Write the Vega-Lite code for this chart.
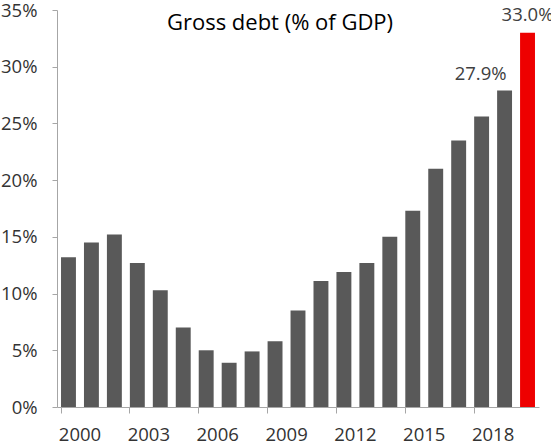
{
  "$schema": "https://vega.github.io/schema/vega-lite/v6.json",
  "width": 482,
  "height": 397,
  "autosize": {"type": "none"},
  "padding": {"left": 57, "top": 10, "right": 12, "bottom": 39},
  "background": "white",
  "title": {
    "text": "Gross debt (% of GDP)",
    "font": "Open Sans",
    "fontSize": 22,
    "fontWeight": "normal",
    "color": "#000000",
    "anchor": "middle",
    "offset": -34,
    "dx": -18
  },
  "config": {
    "view": {"stroke": null},
    "font": "Open Sans"
  },
  "data": {
    "values": [
      {"year": 2000, "value": 0.132},
      {"year": 2001, "value": 0.145},
      {"year": 2002, "value": 0.152},
      {"year": 2003, "value": 0.127},
      {"year": 2004, "value": 0.103},
      {"year": 2005, "value": 0.070},
      {"year": 2006, "value": 0.050},
      {"year": 2007, "value": 0.039},
      {"year": 2008, "value": 0.049},
      {"year": 2009, "value": 0.058},
      {"year": 2010, "value": 0.085},
      {"year": 2011, "value": 0.111},
      {"year": 2012, "value": 0.119},
      {"year": 2013, "value": 0.127},
      {"year": 2014, "value": 0.150},
      {"year": 2015, "value": 0.173},
      {"year": 2016, "value": 0.210},
      {"year": 2017, "value": 0.235},
      {"year": 2018, "value": 0.256},
      {"year": 2019, "value": 0.279},
      {"year": 2020, "value": 0.330}
    ]
  },
  "encoding": {
    "x": {
      "field": "year",
      "type": "ordinal",
      "scale": {"paddingInner": 0.35, "paddingOuter": 0.175},
      "axis": {
        "title": null,
        "values": [2000, 2003, 2006, 2009, 2012, 2015, 2018],
        "bandPosition": 0,
        "labelOffset": 11.5,
        "labelAngle": 0,
        "labelFont": "Open Sans",
        "labelFontSize": 18.5,
        "labelColor": "#333333",
        "labelPadding": 12,
        "tickSize": 6,
        "tickColor": "#A6A6A6",
        "domainColor": "#A6A6A6",
        "grid": false
      }
    },
    "y": {
      "field": "value",
      "type": "quantitative",
      "scale": {"domain": [0, 0.35], "nice": false},
      "axis": {
        "title": null,
        "values": [0, 0.05, 0.1, 0.15, 0.2, 0.25, 0.3, 0.35],
        "format": ".0%",
        "labelFont": "Open Sans",
        "labelFontSize": 18.5,
        "labelColor": "#333333",
        "labelPadding": 15,
        "tickSize": 5,
        "tickColor": "#A6A6A6",
        "domainColor": "#A6A6A6",
        "grid": false
      }
    }
  },
  "layer": [
    {
      "mark": {"type": "bar"},
      "encoding": {
        "color": {
          "condition": {"test": "datum.year == 2020", "value": "#EE0000"},
          "value": "#595959"
        }
      }
    },
    {
      "transform": [{"filter": "datum.year == 2019"}],
      "mark": {"type": "text", "baseline": "alphabetic", "dy": -11, "dx": -24, "font": "Open Sans", "fontSize": 18.5, "color": "#404040"},
      "encoding": {"text": {"field": "value", "type": "quantitative", "format": ".1%"}}
    },
    {
      "transform": [{"filter": "datum.year == 2020"}],
      "mark": {"type": "text", "baseline": "alphabetic", "dy": -12, "font": "Open Sans", "fontSize": 18.5, "color": "#404040"},
      "encoding": {"text": {"field": "value", "type": "quantitative", "format": ".1%"}}
    }
  ]
}
